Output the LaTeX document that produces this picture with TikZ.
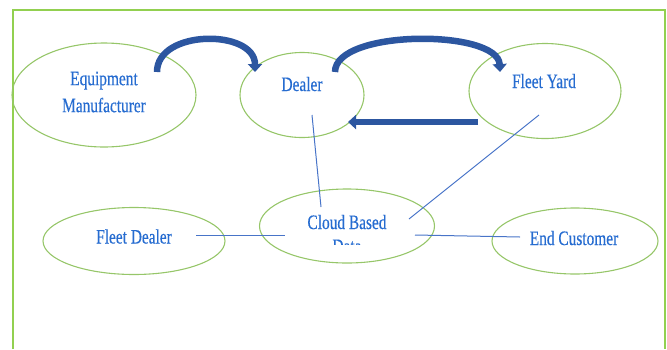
\documentclass[tikz,border=0pt]{standalone}
\usepackage{fontspec}
\setmainfont[FakeStretch=0.75,FakeBold=0.4]{Liberation Serif}
\usetikzlibrary{shapes.geometric,arrows.meta,calc}

\definecolor{framegreen}{RGB}{146,208,80}
\definecolor{ringgreen}{RGB}{150,198,105}
\definecolor{labelblue}{RGB}{38,108,208}
\definecolor{arrowblue}{RGB}{44,86,160}
\definecolor{wireblue}{RGB}{72,116,200}

\tikzset{
  party/.style={ellipse, draw=ringgreen, line width=1.1pt, inner sep=0pt},
  tag/.style={text=labelblue, font=\fontsize{20.5}{24}\selectfont, align=center, inner sep=0pt},
  wire/.style={wireblue, line width=1pt},
  flow/.style={arrowblue, line width=6.5pt, -{Triangle[length=8pt,width=14pt]}},
}

\begin{document}
\begin{tikzpicture}[x=1pt,y=-1pt]
	\useasboundingbox (0,0) rectangle (667,349);
	\draw[framegreen, line width=2pt] (13,349) -- (13,10) -- (665,10) -- (665,349);

	% the parties
	\node[party, minimum width=184pt, minimum height=104pt] (maker) at (104,95) {};
	\node[party, minimum width=124pt, minimum height=85pt] (dealer) at (302,95) {};
	\node[party, minimum width=152pt, minimum height=95pt] (yard) at (545,91) {};
	\node[party, minimum width=182pt, minimum height=67pt] (fdealer) at (134,241) {};
	\node[party, minimum width=175pt, minimum height=74pt] (cloud) at (347,226) {};
	\node[party, minimum width=166pt, minimum height=66pt] (customer) at (575,241) {};

	\node[tag, font=\fontsize{20.5}{27}\selectfont] (maker-t) at (104,92) {Equipment\\Manufacturer};
	\node[tag] (dealer-t) at (302,84) {Dealer};
	\node[tag] (yard-t) at (544,81) {Fleet Yard};
	\node[tag] (fdealer-t) at (134,236.5) {Fleet Dealer};
	\node[tag] (customer-t) at (574,238) {End Customer};
	\begin{scope}
		\clip (260,190) rectangle (435,244);
		\node[tag] (cloud-t) at (347,234) {Cloud Based\\Data};
	\end{scope}

	% goods flow
	\draw[flow] ($(maker)+(53,-23)$) .. controls +(0,-43) and +(0,-43) .. ($(dealer)+(-47,-23)$);
	\draw[flow] ($(dealer)+(33,-23)$) .. controls +(0,-43) and +(-2,-43) .. ($(yard)+(-45,-19)$);
	\draw[flow] ($(yard)+(-67,31)$) -- ($(dealer)+(46,27)$);

	% links to the cloud
	\draw[wire] ($(dealer)+(10,20)$) -- ($(cloud)+(-26,-19)$);
	\draw[wire] ($(yard)+(-6,24)$) -- ($(cloud)+(62,-7)$);
	\draw[wire] ($(fdealer)+(62,-6)$) -- ($(cloud)+(-62,9)$);
	\draw[wire] ($(cloud)+(68,9)$) -- ($(customer)+(-55,-4)$);
\end{tikzpicture}
\end{document}
